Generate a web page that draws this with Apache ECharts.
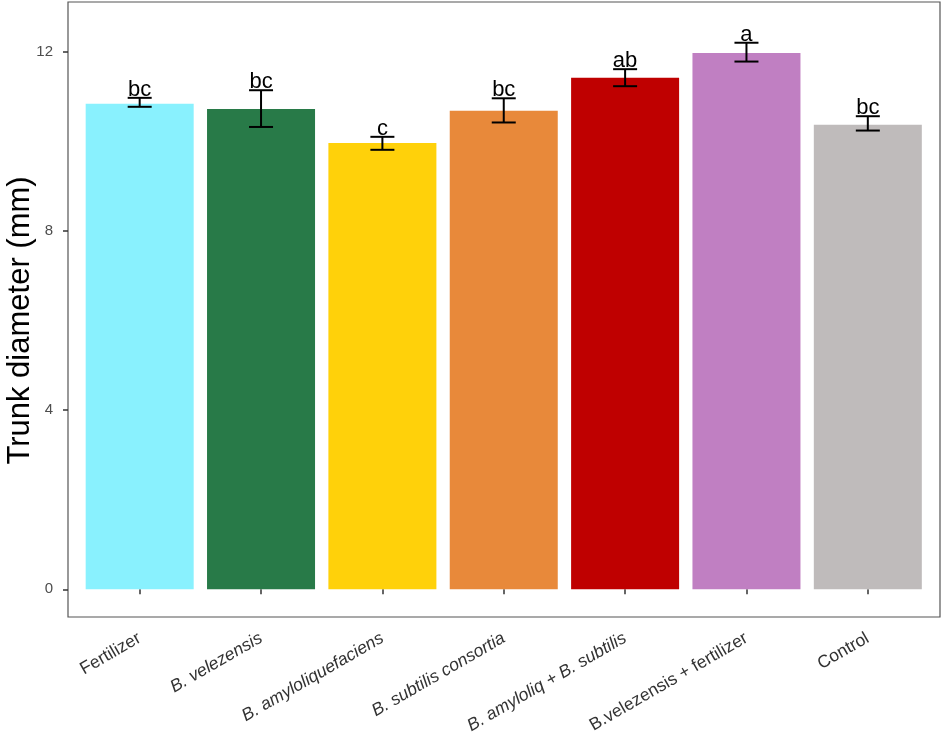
<!DOCTYPE html>
<html>
<head>
<meta charset="utf-8">
<script src="https://cdn.jsdelivr.net/npm/echarts@6/dist/echarts.min.js"></script>
<style>html,body{margin:0;padding:0;background:#fff}#c{width:945px;height:737px}</style>
</head>
<body>
<div id="c"></div>
<script>
var categories = ['Fertilizer', 'B. velezensis', 'B. amyloliquefaciens', 'B. subtilis consortia', 'B. amyloliq + B. subtilis', 'B.velezensis + fertilizer', 'Control'];
var italicLabel = [false, true, true, true, true, false, false];
var means = [10.84, 10.72, 9.96, 10.68, 11.42, 11.97, 10.37];
var errLow = [10.77, 10.32, 9.81, 10.42, 11.23, 11.78, 10.24];
var errHigh = [10.97, 11.14, 10.10, 10.96, 11.61, 12.20, 10.56];
var letters = ['bc', 'bc', 'c', 'bc', 'ab', 'a', 'bc'];
var colors = ['#89F1FE', '#287A48', '#FFD10A', '#E8893A', '#BF0000', '#C07FC2', '#BFBBBB'];
var yTicks = [0, 4, 8, 12];

var FONT = '"Liberation Sans", Arial, sans-serif';
var chart = echarts.init(document.getElementById('c'));

var barData = means.map(function (v, i) {
  return { value: v, itemStyle: { color: colors[i] } };
});
var errData = means.map(function (v, i) {
  return [i, errLow[i], errHigh[i], letters[i]];
});

chart.setOption({
  animation: false,
  backgroundColor: '#fff',
  grid: [
    { left: 79, right: 16.5, top: 51.7, bottom: 147.7, outerBoundsMode: 'none', containLabel: false },
    { left: 68, right: 5, top: 2, bottom: 120, show: true, borderColor: '#555', borderWidth: 1.2, backgroundColor: 'transparent', outerBoundsMode: 'none', containLabel: false }
  ],
  xAxis: [
    {
      type: 'category', gridIndex: 0, data: categories, offset: 27.7,
      boundaryGap: true,
      axisLine: { show: false },
      axisTick: { show: true, alignWithLabel: true, length: 5, lineStyle: { color: '#333', width: 1.5 } },
      axisLabel: {
        rotate: 30, interval: 0, margin: 20, color: '#333', fontSize: 17.5, fontFamily: FONT,
        formatter: function (v) {
          var i = categories.indexOf(v);
          return italicLabel[i] ? '{it|' + v + '}' : v;
        },
        rich: { it: { fontStyle: 'italic', fontSize: 17.5, fontFamily: FONT, color: '#333' } }
      }
    },
    { type: 'value', gridIndex: 1, show: false, min: 0, max: 1 }
  ],
  yAxis: [
    {
      type: 'value', gridIndex: 0, min: 0, max: 12, interval: 4, offset: 11,
      axisLine: { show: false },
      splitLine: { show: false },
      axisTick: { show: true, length: 5, lineStyle: { color: '#333', width: 1.5 } },
      axisLabel: { color: '#4d4d4d', fontSize: 15, fontFamily: FONT, margin: 15 },
      name: 'Trunk diameter (mm)', nameLocation: 'middle', nameGap: 32, nameMoveOverlap: false,
      nameTextStyle: { fontSize: 31, fontFamily: FONT, color: '#000' }
    },
    { type: 'value', gridIndex: 1, show: false, min: 0, max: 1 }
  ],
  series: [
    {
      type: 'bar', xAxisIndex: 0, yAxisIndex: 0, data: barData,
      barCategoryGap: '11%'
    },
    {
      type: 'custom', xAxisIndex: 0, yAxisIndex: 0, data: errData, clip: false, z: 5,
      encode: { x: 0, y: [1, 2] },
      renderItem: function (params, api) {
        var x = api.value(0);
        var lo = api.coord([x, api.value(1)]);
        var hi = api.coord([x, api.value(2)]);
        var hw = 12;
        var style = { stroke: '#000', lineWidth: 2 };
        return {
          type: 'group',
          children: [
            { type: 'line', shape: { x1: lo[0], y1: lo[1], x2: hi[0], y2: hi[1] }, style: style },
            { type: 'line', shape: { x1: lo[0] - hw, y1: lo[1], x2: lo[0] + hw, y2: lo[1] }, style: style },
            { type: 'line', shape: { x1: hi[0] - hw, y1: hi[1], x2: hi[0] + hw, y2: hi[1] }, style: style },
            { type: 'text', style: { text: letters[params.dataIndex], x: hi[0], y: hi[1] + 3, align: 'center', verticalAlign: 'bottom', fontSize: 22, fontFamily: FONT, fill: '#000' } }
          ]
        };
      }
    }
  ]
});
</script>
</body>
</html>
